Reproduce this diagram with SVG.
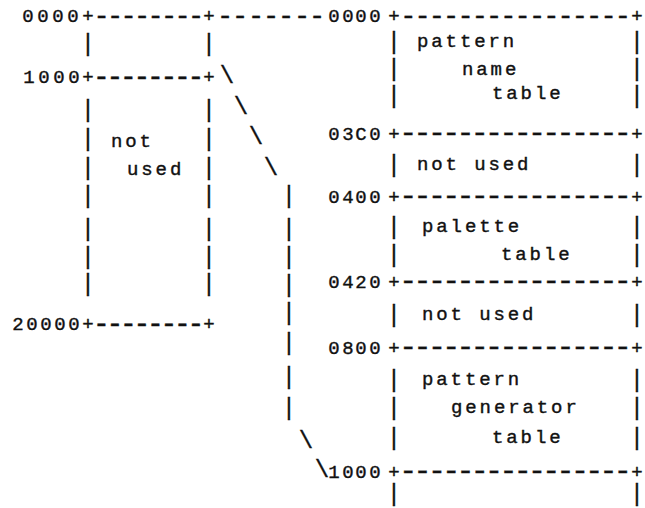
<svg xmlns="http://www.w3.org/2000/svg" width="645" height="508" viewBox="0 0 645 508">
<style>
text{font-family:"Liberation Mono","DejaVu Sans Mono",monospace;font-size:19px;fill:#111;stroke:#111;stroke-width:0.4px}
.m{text-anchor:middle}
.w{letter-spacing:2.9px}
.d{font-size:30px}
.d0{font-size:27px}
.d1{font-size:28px}
.v{font-size:23px;text-anchor:middle}
.b{font-size:24px}
</style>
<rect width="645" height="508" fill="#fff"/>

<g id="top-rule">
<text class="m" y="22" x="28 43 58 73 88 101.5 115 128.5 142 155.5 169 182.5 196 209 225 240 256 271 286 302 317 334 348 361 375 394 408.3 422.6 436.9 451.2 465.5 479.8 494.1 508.4 522.7 537 551.3 565.6 579.9 594.2 608.5 622.8 637">0000+<tspan class="d0" dy="2">--------</tspan><tspan dy="-2">+</tspan><tspan class="d0" dy="2">-------</tspan><tspan dy="-2">0000+</tspan><tspan class="d0" dy="2">----------------</tspan><tspan dy="-2">+</tspan></text>
</g>

<g id="left-map">
<text class="v" x="88" y="51">|</text><text class="v" x="209" y="51">|</text>
<text class="m" y="83" x="29 44 59 74 88 101.5 115 128.5 142 155.5 169 182.5 196 209 227">1000+<tspan class="d1" dy="2">--------</tspan><tspan dy="-2">+</tspan><tspan class="b">\</tspan></text>
<text class="v" x="88" y="117">|</text><text class="v" x="209" y="117">|</text>
<text class="v" x="88" y="146">|</text><text class="w" x="111" y="147">not</text><text class="v" x="209" y="146">|</text>
<text class="v" x="88" y="175">|</text><text class="w" x="127" y="175">used</text><text class="v" x="209" y="175">|</text>
<text class="v" x="88" y="203">|</text><text class="v" x="209" y="203">|</text>
<text class="v" x="88" y="236">|</text><text class="v" x="209" y="236">|</text>
<text class="v" x="88" y="264">|</text><text class="v" x="209" y="264">|</text>
<text class="v" x="88" y="291">|</text><text class="v" x="209" y="291">|</text>
<text class="m" y="330" x="18 32 46 60 74 88 101.5 115 128.5 142 155.5 169 182.5 196 209">20000+<tspan class="d1" dy="2">--------</tspan><tspan dy="-2">+</tspan></text>
</g>

<g id="connectors">
<text class="b m" x="241" y="114">\</text>
<text class="b m" x="256" y="144">\</text>
<text class="b m" x="271" y="175">\</text>
<text class="v" x="289" y="203">|</text>
<text class="v" x="289" y="236">|</text>
<text class="v" x="289" y="264">|</text>
<text class="v" x="289" y="292">|</text>
<text class="v" x="289" y="320">|</text>
<text class="v" x="289" y="350">|</text>
<text class="v" x="289" y="384">|</text>
<text class="v" x="289" y="415">|</text>
<text class="b m" x="306" y="448">\</text>
</g>

<g id="right-map">
<text class="v" x="394" y="49">|</text><text class="w" x="417" y="47">pattern</text><text class="v" x="637" y="49">|</text>
<text class="v" x="394" y="76">|</text><text class="w" x="462" y="75">name</text><text class="v" x="637" y="76">|</text>
<text class="v" x="394" y="103">|</text><text class="w" x="492" y="99">table</text><text class="v" x="637" y="103">|</text>
<text class="m" y="140" x="334 348 361 375 394 408.3 422.6 436.9 451.2 465.5 479.8 494.1 508.4 522.7 537 551.3 565.6 579.9 594.2 608.5 622.8 637">03C0+<tspan class="d" dy="2">----------------</tspan><tspan dy="-2">+</tspan></text>
<text class="v" x="394" y="172">|</text><text class="w" x="417" y="170">not used</text><text class="v" x="637" y="172">|</text>
<text class="m" y="203" x="334 348 361 375 394 408.3 422.6 436.9 451.2 465.5 479.8 494.1 508.4 522.7 537 551.3 565.6 579.9 594.2 608.5 622.8 637">0400+<tspan class="d" dy="2">----------------</tspan><tspan dy="-2">+</tspan></text>
<text class="v" x="394" y="234">|</text><text class="w" x="422" y="232">palette</text><text class="v" x="637" y="234">|</text>
<text class="v" x="394" y="262">|</text><text class="w" x="501" y="260">table</text><text class="v" x="637" y="262">|</text>
<text class="m" y="288" x="334 348 361 375 394 408.3 422.6 436.9 451.2 465.5 479.8 494.1 508.4 522.7 537 551.3 565.6 579.9 594.2 608.5 622.8 637">0420+<tspan class="d" dy="2">----------------</tspan><tspan dy="-2">+</tspan></text>
<text class="v" x="394" y="322">|</text><text class="w" x="422" y="320">not used</text><text class="v" x="637" y="322">|</text>
<text class="m" y="354" x="334 348 361 375 394 408.3 422.6 436.9 451.2 465.5 479.8 494.1 508.4 522.7 537 551.3 565.6 579.9 594.2 608.5 622.8 637">0800+<tspan class="d" dy="2">----------------</tspan><tspan dy="-2">+</tspan></text>
<text class="v" x="394" y="387">|</text><text class="w" x="422" y="385">pattern</text><text class="v" x="637" y="387">|</text>
<text class="v" x="394" y="415">|</text><text class="w" x="451" y="413">generator</text><text class="v" x="637" y="415">|</text>
<text class="v" x="394" y="445">|</text><text class="w" x="492" y="443">table</text><text class="v" x="637" y="445">|</text>
<text class="m" y="478" x="322 334 348 361 375 394 408.3 422.6 436.9 451.2 465.5 479.8 494.1 508.4 522.7 537 551.3 565.6 579.9 594.2 608.5 622.8 637"><tspan class="b" dy="-1">\</tspan><tspan dy="1">1000+</tspan><tspan class="d" dy="2">----------------</tspan><tspan dy="-2">+</tspan></text>
<text class="v" x="394" y="501">|</text><text class="v" x="637" y="501">|</text>
</g>
</svg>
